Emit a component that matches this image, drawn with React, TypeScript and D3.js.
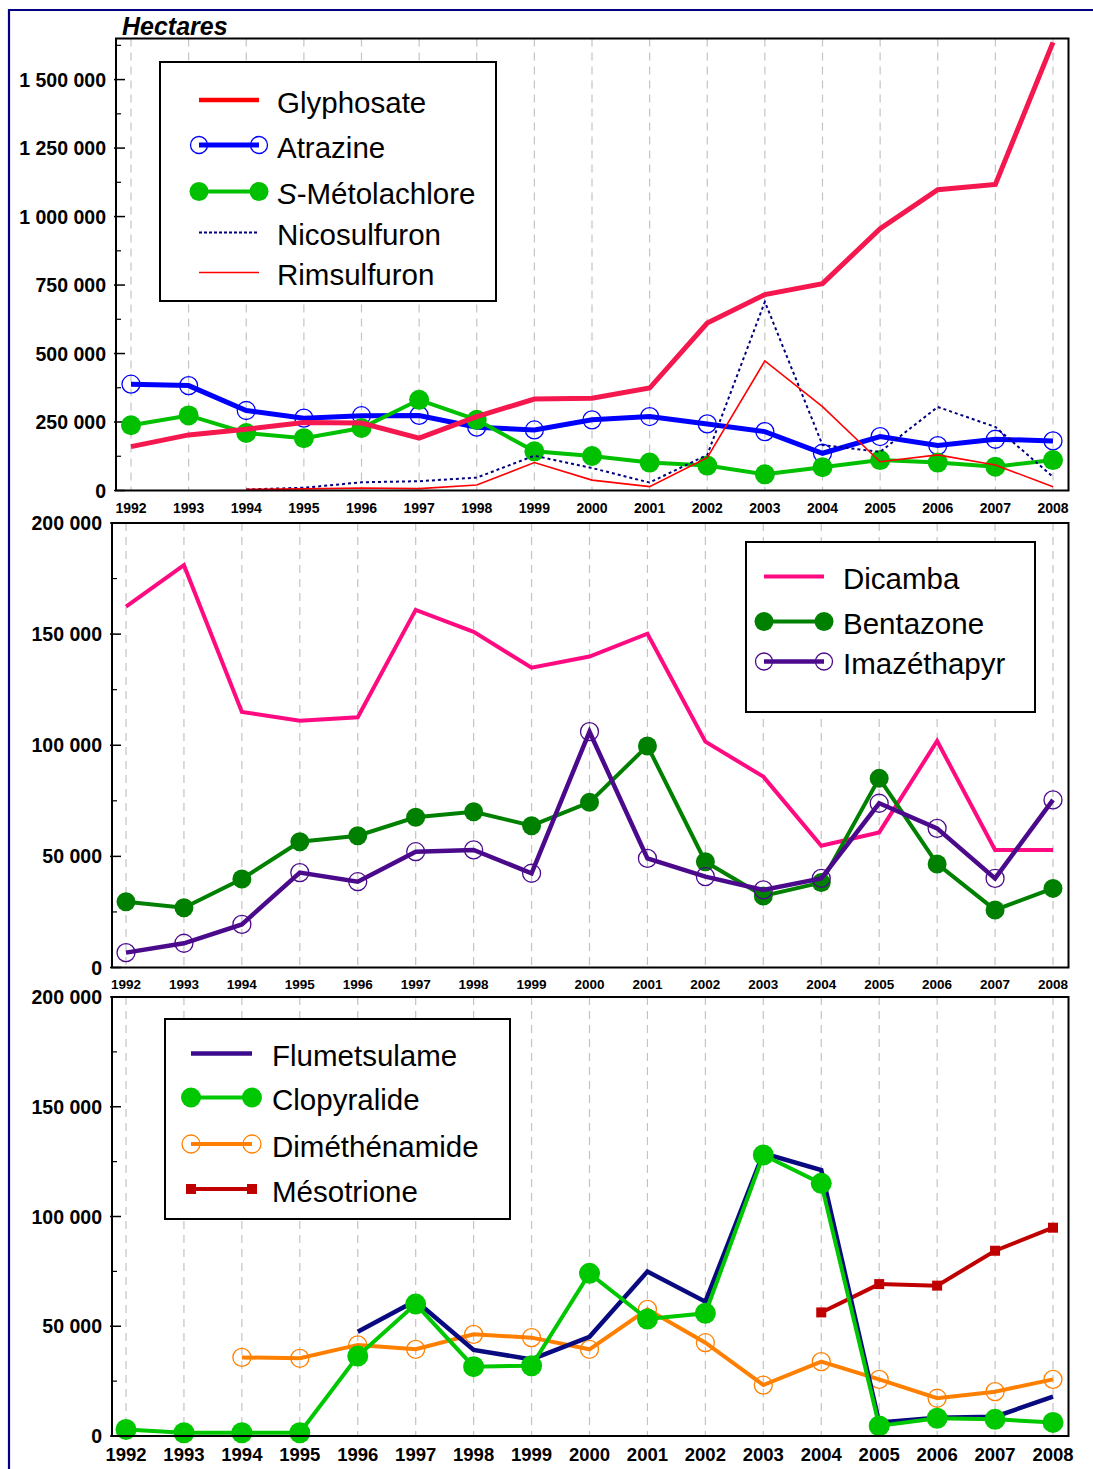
import React from "react";
import * as d3 from "d3";

const years = [1992, 1993, 1994, 1995, 1996, 1997, 1998, 1999, 2000, 2001, 2002, 2003, 2004, 2005, 2006, 2007, 2008];

// Panel 1 (hectares)
const glyphosate = [160000, 203000, 224000, 248000, 246000, 191000, 270000, 334000, 337000, 374000, 611000, 715000, 755000, 956000, 1098000, 1117000, 1636000];
const atrazine = [388000, 383000, 292000, 264000, 273000, 274000, 231000, 221000, 258000, 270000, 243000, 215000, 136000, 197000, 164000, 187000, 181000];
const metolachlore = [238000, 274000, 210000, 191000, 228000, 331000, 258000, 143000, 126000, 102000, 91000, 59000, 85000, 111000, 102000, 87000, 111000];
const nicosulfuron = [null, null, 4000, 10000, 30000, 34000, 47000, 127000, 82000, 29000, 130000, 689000, 166000, 141000, 305000, 232000, 50000];
const rimsulfuron = [null, null, 4000, 6000, 9000, 7000, 20000, 102000, 38000, 14000, 120000, 473000, 306000, 105000, 130000, 93000, 14000];

// Panel 2
const dicamba = [162400, 181000, 115000, 111000, 112600, 160900, 151000, 134900, 139900, 150200, 101600, 85900, 54800, 60800, 101900, 52900, 52900];
const bentazone = [29600, 26900, 39800, 56600, 59300, 67600, 70100, 63800, 74300, 99700, 47600, 32200, 38200, 85100, 46600, 25900, 35600];
const imazethapyr = [6700, 10900, 19400, 42700, 38600, 52100, 52900, 42400, 106100, 49100, 40900, 34900, 40100, 73900, 62600, 40100, 75400];

// Panel 3
const flumetsulame = [null, null, null, null, 47500, 61600, 39200, 34900, 45200, 74900, 61200, 128800, 121200, 6100, 8300, 8800, 17900];
const clopyralide = [3000, 1500, 1500, 1500, 36400, 60100, 31600, 32000, 74100, 53300, 55900, 128000, 115100, 4600, 8100, 7600, 6200];
const dimethenamide = [null, null, 35800, 35400, 41500, 39500, 46300, 44800, 39500, 57700, 42500, 23200, 33900, 25800, 17200, 20200, 25800];
const mesotrione = [null, null, null, null, null, null, null, null, null, null, null, null, 56300, 69200, 68500, 84400, 94900];

const ticks1 = [0, 250000, 500000, 750000, 1000000, 1250000, 1500000];
const ticks23 = [0, 50000, 100000, 150000, 200000];

const FONT = "'Liberation Sans', Arial, Helvetica, sans-serif";

const locale = d3.formatLocale({ decimal: ",", thousands: "\u00a0", grouping: [3], currency: ["", ""] });
const fmt = locale.format(",d");

type Marker = "none" | "openCircle" | "filledCircle" | "square";
interface Series {
  name: string;
  values: (number | null)[];
  color: string;
  width: number;
  dash?: string;
  marker: Marker;
  r?: number;
}

interface Panel {
  left: number; right: number; top: number; bottom: number;
  x0: number; x1: number; yMax: number; ticks: number[]; minorStep: number;
  xLabelY: number; xLabelSize: number; yLabelX: number;
  series: Series[];
}

const panels: Panel[] = [
  {
    left: 116, right: 1068.5, top: 38.5, bottom: 490.5, x0: 131, x1: 1053, yMax: 1650000, ticks: ticks1, minorStep: 125000,
    xLabelY: 507.5, xLabelSize: 14, yLabelX: 106,
    series: [
      { name: "Atrazine", values: atrazine, color: "#0000FF", width: 5, marker: "openCircle", r: 9 },
      { name: "Métolachlore", values: metolachlore, color: "#00C000", width: 4, marker: "filledCircle", r: 10 },
      { name: "Glyphosate", values: glyphosate, color: "#F5184F", width: 5, marker: "none" },
      { name: "Nicosulfuron", values: nicosulfuron, color: "#000080", width: 2, dash: "3,3", marker: "none" },
      { name: "Rimsulfuron", values: rimsulfuron, color: "#FF0000", width: 1.6, marker: "none" },
    ],
  },
  {
    left: 112, right: 1068.5, top: 523, bottom: 967.5, x0: 126, x1: 1053, yMax: 200000, ticks: ticks23, minorStep: 25000,
    xLabelY: 984, xLabelSize: 13.5, yLabelX: 102,
    series: [
      { name: "Dicamba", values: dicamba, color: "#FF0A80", width: 4, marker: "none" },
      { name: "Bentazone", values: bentazone, color: "#008000", width: 4, marker: "filledCircle", r: 9.5 },
      { name: "Imazéthapyr", values: imazethapyr, color: "#4B0A8C", width: 4.5, marker: "openCircle", r: 9 },
    ],
  },
  {
    left: 112, right: 1068.5, top: 997, bottom: 1436, x0: 126, x1: 1053, yMax: 200000, ticks: ticks23, minorStep: 25000,
    xLabelY: 1454.5, xLabelSize: 18.5, yLabelX: 102,
    series: [
      { name: "Diméthénamide", values: dimethenamide, color: "#FF8000", width: 4, marker: "openCircle", r: 9 },
      { name: "Mésotrione", values: mesotrione, color: "#C00000", width: 4, marker: "square", r: 5 },
      { name: "Flumetsulame", values: flumetsulame, color: "#0A0A80", width: 4.5, marker: "none" },
      { name: "Clopyralide", values: clopyralide, color: "#00C800", width: 4, marker: "filledCircle", r: 10.5 },
    ],
  },
];

interface LegendItem { label: React.ReactNode; color: string; width: number; dash?: string; marker: Marker; r?: number; y: number; }
interface Legend { x: number; y: number; w: number; h: number; lx1: number; lx2: number; tx: number; items: LegendItem[]; }

const legends: Legend[] = [
  {
    x: 160, y: 62, w: 336, h: 239, lx1: 199, lx2: 259, tx: 277,
    items: [
      { label: "Glyphosate", color: "#FF0000", width: 4.5, marker: "none", y: 100 },
      { label: "Atrazine", color: "#0000FF", width: 5, marker: "openCircle", r: 8.5, y: 145 },
      { label: <><tspan fontStyle="italic">S</tspan>-Métolachlore</>, color: "#00C000", width: 4, marker: "filledCircle", r: 9.5, y: 191.5 },
      { label: "Nicosulfuron", color: "#000080", width: 2, dash: "3,2", marker: "none", y: 232.5 },
      { label: "Rimsulfuron", color: "#FF0000", width: 1.6, marker: "none", y: 272.5 },
    ],
  },
  {
    x: 746, y: 542, w: 289, h: 170, lx1: 764, lx2: 824, tx: 843,
    items: [
      { label: "Dicamba", color: "#FF0A80", width: 4, marker: "none", y: 576.5 },
      { label: "Bentazone", color: "#008000", width: 4, marker: "filledCircle", r: 9.5, y: 621.5 },
      { label: "Imazéthapyr", color: "#4B0A8C", width: 4.5, marker: "openCircle", r: 8.5, y: 661.5 },
    ],
  },
  {
    x: 165, y: 1019, w: 345, h: 200, lx1: 191, lx2: 252, tx: 272,
    items: [
      { label: "Flumetsulame", color: "#3C0A8C", width: 4.5, marker: "none", y: 1053.5 },
      { label: "Clopyralide", color: "#00C800", width: 4, marker: "filledCircle", r: 10, y: 1097.5 },
      { label: "Diméthénamide", color: "#FF8000", width: 4, marker: "openCircle", r: 9, y: 1144 },
      { label: "Mésotrione", color: "#C00000", width: 4, marker: "square", r: 5, y: 1189 },
    ],
  },
];

function MarkerShape({ type, cx, cy, color, r }: { type: Marker; cx: number; cy: number; color: string; r: number }) {
  if (type === "openCircle") return <circle cx={cx} cy={cy} r={r} fill="none" stroke={color} strokeWidth={1.3} />;
  if (type === "filledCircle") return <circle cx={cx} cy={cy} r={r} fill={color} />;
  if (type === "square") return <rect x={cx - r} y={cy - r} width={2 * r} height={2 * r} fill={color} />;
  return null;
}

function PanelView({ p }: { p: Panel }) {
  const x = d3.scaleLinear().domain([years[0], years[years.length - 1]]).range([p.x0, p.x1]);
  const y = d3.scaleLinear().domain([0, p.yMax]).range([p.bottom, p.top]);
  const minor = d3.range(p.minorStep, p.yMax, p.minorStep * 2);
  return (
    <g>
      {years.map((yr) => (
        <line key={"g" + yr} x1={x(yr)} x2={x(yr)} y1={p.top} y2={p.bottom} stroke="#c4c4c4" strokeWidth={1.2} strokeDasharray="8,6" />
      ))}
      {p.ticks.map((t) => (
        <g key={"t" + t}>
          <line x1={p.left - 2} x2={p.left + 9} y1={y(t)} y2={y(t)} stroke="#000" strokeWidth={1.5} />
          <text x={p.yLabelX} y={y(t)} dy="0.36em" textAnchor="end" fontFamily={FONT} fontWeight="bold" fontSize={19.5} fill="#000">{fmt(t)}</text>
        </g>
      ))}
      {minor.map((t) => (
        <line key={"m" + t} x1={p.left} x2={p.left + 5} y1={y(t)} y2={y(t)} stroke="#000" strokeWidth={1.2} />
      ))}
      {years.map((yr) => (
        <text key={"xl" + yr} x={x(yr)} y={p.xLabelY} dy="0.36em" textAnchor="middle" fontFamily={FONT} fontWeight="bold" fontSize={p.xLabelSize} fill="#000">{yr}</text>
      ))}
      {p.series.map((s) => {
        const line = d3.line<number | null>()
          .defined((d) => d !== null)
          .x((_, i) => x(years[i]))
          .y((d) => y(d as number));
        return (
          <g key={s.name}>
            <path d={line(s.values) || ""} fill="none" stroke={s.color} strokeWidth={s.width} strokeDasharray={s.dash} strokeLinejoin="miter" />
            {s.marker !== "none" && s.values.map((v, i) => v === null ? null : (
              <MarkerShape key={i} type={s.marker} cx={x(years[i])} cy={y(v)} color={s.color} r={s.r || 8} />
            ))}
          </g>
        );
      })}
      <rect x={p.left} y={p.top} width={p.right - p.left} height={p.bottom - p.top} fill="none" stroke="#000" strokeWidth={2} />
    </g>
  );
}

function LegendView({ l }: { l: Legend }) {
  return (
    <g>
      <rect x={l.x} y={l.y} width={l.w} height={l.h} fill="#fff" stroke="#000" strokeWidth={2} />
      {l.items.map((it, i) => (
        <g key={i}>
          <line x1={l.lx1} x2={l.lx2} y1={it.y} y2={it.y} stroke={it.color} strokeWidth={it.width} strokeDasharray={it.dash} />
          {it.marker !== "none" && (
            <>
              <MarkerShape type={it.marker} cx={l.lx1} cy={it.y} color={it.color} r={it.r || 8} />
              <MarkerShape type={it.marker} cx={l.lx2} cy={it.y} color={it.color} r={it.r || 8} />
            </>
          )}
          <text x={l.tx} y={it.y + 2} dy="0.36em" fontFamily={FONT} fontSize={29.5} fill="#000">{it.label}</text>
        </g>
      ))}
    </g>
  );
}

export default function App() {
  return (
    <svg width={1093} height={1469} style={{ position: "absolute", left: 0, top: 0, background: "#fff" }}>
      <rect x={0} y={0} width={1093} height={1469} fill="#fff" />
      <path d="M9,1469 L9,10 L1093,10" fill="none" stroke="#000080" strokeWidth={2.2} />
      <text x={122} y={35} fontFamily={FONT} fontWeight="bold" fontStyle="italic" fontSize={25} fill="#000">Hectares</text>
      {panels.map((p, i) => <PanelView key={i} p={p} />)}
      {legends.map((l, i) => <LegendView key={i} l={l} />)}
    </svg>
  );
}
